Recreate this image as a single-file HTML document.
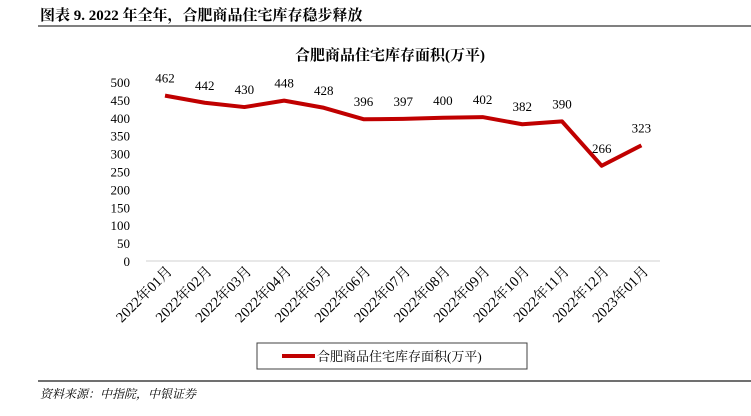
<!DOCTYPE html>
<html><head><meta charset="utf-8"><style>
body{margin:0;width:751px;height:411px;background:#fff;overflow:hidden;font-family:"Liberation Serif","Noto Serif CJK SC",serif;}
</style></head><body>
<svg width="751" height="411" xmlns="http://www.w3.org/2000/svg">
<text x="40" y="20" font-size="15" font-weight="bold" font-family="Liberation Serif,Noto Serif CJK SC,serif">图表 9. 2022 年全年，合肥商品住宅库存稳步释放</text>
<line x1="38" y1="26" x2="751" y2="26" stroke="#808080" stroke-width="2"/>
<text x="390" y="60" font-size="15" font-weight="bold" text-anchor="middle">合肥商品住宅库存面积(万平)</text>
<g id="yaxis"></g>
<line x1="146" y1="261" x2="660" y2="261" stroke="#d0d0d0" stroke-width="1"/>
<g id="xaxis"></g>
<g id="series"></g>
<rect x="257" y="343" width="270" height="26" fill="#fff" stroke="#404040"/>
<line x1="282" y1="356" x2="315" y2="356" stroke="#c00000" stroke-width="4"/>
<text x="317" y="361" font-size="13">合肥商品住宅库存面积(万平)</text>
<line x1="38" y1="381" x2="751" y2="381" stroke="#404040" stroke-width="1.5"/>
<text x="40" y="398" font-size="12" font-style="italic">资料来源：中指院，中银证券</text>
</svg>
<script>
const categories=["2022年01月","2022年02月","2022年03月","2022年04月","2022年05月","2022年06月","2022年07月","2022年08月","2022年09月","2022年10月","2022年11月","2022年12月","2023年01月"];
const values=[462,442,430,448,428,396,397,400,402,382,390,266,323];
const yTicks=[0,50,100,150,200,250,300,350,400,450,500];
const NS="http://www.w3.org/2000/svg";
function y(v){return 261-v*(179/500);}
function x(i){return 165+i*39.7;}
function mk(tag,attrs,parent,txt){const e=document.createElementNS(NS,tag);for(const k in attrs)e.setAttribute(k,attrs[k]);if(txt!==undefined)e.textContent=txt;parent.appendChild(e);return e;}
const ya=document.getElementById('yaxis');
yTicks.forEach(t=>{const e=mk('text',{x:130,y:y(t)+5,'font-size':13,'text-anchor':'end'},ya,String(t));

});
const xa=document.getElementById('xaxis');
categories.forEach((c,i)=>{const e=mk('text',{x:x(i)+8,y:272,'font-size':14.5,'text-anchor':'end',transform:`rotate(-45 ${x(i)+8} 272)`},xa,c);

});
const s=document.getElementById('series');
const pl=mk('polyline',{points:values.map((v,i)=>x(i)+','+y(v)).join(' '),fill:'none',stroke:'#c00000','stroke-width':4,'stroke-linejoin':'round'},s);


values.forEach((v,i)=>{const e=mk('text',{x:x(i),y:y(v)-13,'font-size':13,'text-anchor':'middle'},s,String(v));

});
</script>
</body></html>
